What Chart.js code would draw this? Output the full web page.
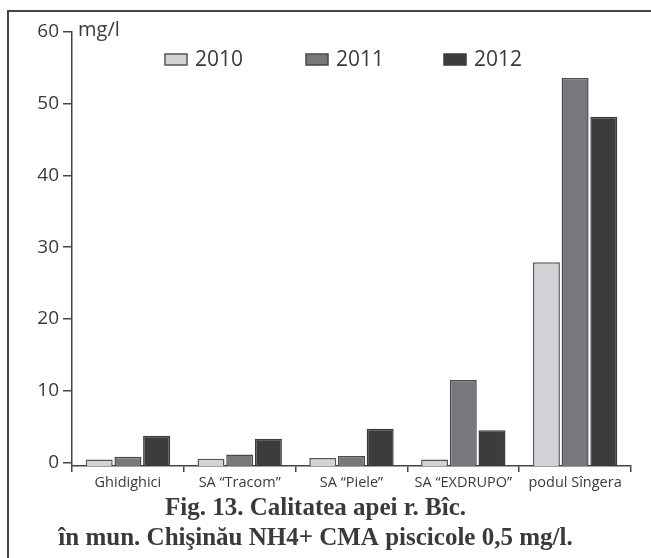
<!DOCTYPE html>
<html>
<head>
<meta charset="utf-8">
<script src="https://cdn.jsdelivr.net/npm/chart.js@4/dist/chart.umd.min.js"></script>
<style>
  body { margin: 0; background: #fff; }
  #wrap { position: relative; width: 651px; height: 558px; overflow: hidden; }
  #frame { position: absolute; left: 7px; top: 10px; width: 700px; height: 600px;
           border-left: 2px solid #444; border-top: 2px solid #444; }
  canvas { position: absolute; left: 0; top: 0; }
</style>
</head>
<body>
<div id="wrap">
  <div id="frame"></div>
  <canvas id="chart" width="651" height="558"></canvas>
</div>
<script>
// Data (NH4+, mg/l)
const categories = ['Ghidighici', 'SA \u201CTracom\u201D', 'SA \u201CPiele\u201D', 'SA \u201CEXDRUPO\u201D', 'podul S\u00EEngera'];
const years = ['2010', '2011', '2012'];
const values2010 = [0.4, 0.5, 0.6, 0.4, 27.9];
const values2011 = [0.8, 1.1, 0.9, 11.5, 53.6];
const values2012 = [3.7, 3.3, 4.7, 4.5, 48.2];
const yTicks = [0, 10, 20, 30, 40, 50, 60];

const fills = ['#d2d3d7', '#77787c', '#3b3c3e'];
const borders = ['#555558', '#48494c', '#3b3c3e'];
const textColor = '#3a3a3a';
const sans = "'Open Sans', 'Noto Sans', sans-serif";
const yMin = -0.5;

// legend drawn inside the plot area + unit label
const insideLegend = {
    id: 'insideLegend',
    afterDraw: function (chart) {
        const ctx = chart.ctx;
        const boxX = [165, 306, 444];
        ctx.save();
        ctx.font = '21px ' + sans;
        ctx.textBaseline = 'middle';
        chart.data.datasets.forEach(function (ds, i) {
            ctx.fillStyle = ds.backgroundColor;
            ctx.strokeStyle = ds.borderColor;
            ctx.lineWidth = 1.5;
            ctx.fillRect(boxX[i], 54, 22, 11);
            ctx.strokeRect(boxX[i], 54, 22, 11);
            ctx.fillStyle = textColor;
            ctx.fillText(ds.label, boxX[i] + 30, 60);
        });
        ctx.font = '20px ' + sans;
        ctx.fillText('mg/l', 78, 30);
        ctx.restore();
    }
};

const datasets = [values2010, values2011, values2012].map(function (vals, i) {
    return {
        label: years[i],
        data: vals,
        base: yMin,
        backgroundColor: fills[i],
        borderColor: borders[i],
        borderWidth: 1.5,
        categoryPercentage: 0.77,
        barPercentage: 0.94
    };
});

new Chart(document.getElementById('chart'), {
    type: 'bar',
    data: { labels: categories, datasets: datasets },
    plugins: [insideLegend],
    options: {
        responsive: false,
        animation: false,
        layout: { padding: { left: 0, right: 20, top: 32, bottom: 4 } },
        plugins: {
            legend: { display: false },
            tooltip: { enabled: false },
            title: {
                display: true,
                position: 'bottom',
                text: ['Fig. 13. Calitatea apei r. B\u00EEc.', '\u00EEn mun. Chi\u015Fin\u0103u NH4+ CMA piscicole 0,5 mg/l.'],
                color: textColor,
                font: { family: "'Liberation Serif', serif", size: 25, weight: 'bold', lineHeight: 1.2 },
                padding: { top: 0, bottom: 0 }
            }
        },
        scales: {
            x: {
                grid: { drawOnChartArea: false, offset: true, tickLength: 6, color: '#444', lineWidth: 1.5 },
                border: { color: '#444', width: 1.5 },
                ticks: { color: textColor, font: { family: sans, size: 14.5 }, padding: 2, maxRotation: 0 },
                afterFit: function (scale) { scale.height = 28; }
            },
            y: {
                min: yMin,
                max: 60,
                afterBuildTicks: function (scale) {
                    scale.ticks = yTicks.map(function (v) { return { value: v }; });
                },
                grid: { drawOnChartArea: false, tickLength: 9, color: '#444', lineWidth: 1.5 },
                border: { color: '#444', width: 1.5 },
                ticks: { color: textColor, font: { family: sans, size: 19 }, padding: 4 },
                afterFit: function (scale) { scale.width = 72; }
            }
        }
    }
});
</script>
</body>
</html>
